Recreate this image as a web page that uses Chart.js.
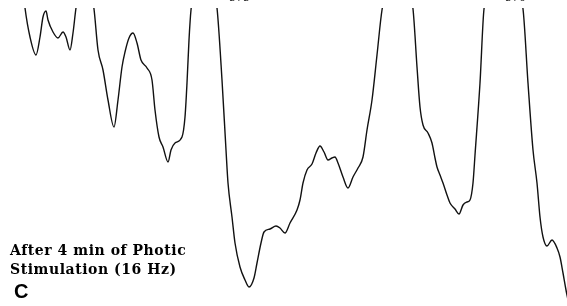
<!DOCTYPE html>
<html>
<head>
<meta charset="utf-8">
<script src="https://cdn.jsdelivr.net/npm/chart.js@4"></script>
<style>
    body { margin: 0; background: #fff; overflow: hidden; }
    #wrap { position: relative; width: 567px; height: 306px; overflow: hidden; }
    .lbl { position: absolute; color: #000; white-space: nowrap; }
    .cap { font-family: "DejaVu Serif", serif; font-weight: bold; font-size: 14px; letter-spacing: 0.55px; left: 10px; }
    .peak { font-family: "DejaVu Serif", serif; font-size: 11px; top: -9px; }
</style>
</head>
<body>
<div id="wrap">
    <canvas id="chart" width="567" height="306"></canvas>
    <div class="lbl peak" style="left:229px">575</div>
    <div class="lbl peak" style="left:505px">570</div>
    <div class="lbl cap" style="top:242px">After 4 min of Photic</div>
    <div class="lbl cap" style="top:261px">Stimulation (16 Hz)</div>
    <div class="lbl" style="left:14px;top:280px;font-family:'Liberation Sans',sans-serif;font-weight:bold;font-size:20px">C</div>
</div>
<script>
// trace (x position, signal height); values above 298 run off the top
const xValues = [22, 25, 30, 36, 40, 43, 46, 48, 53, 58, 63, 66, 70, 73, 76,
    85, 94, 98, 103, 108, 114, 118, 122, 125, 129, 133, 137, 141, 147, 152, 155, 159, 163, 168, 171, 175, 182, 185, 187, 189, 191,
    204, 217, 222, 226, 228, 232, 235, 240, 245, 249, 254, 257, 261, 264, 270, 276, 280, 285, 290, 297, 300, 303, 307, 312, 316, 320,
    324, 328, 332, 335, 338, 343, 348, 353, 358, 363, 367, 372, 377, 382,
    397, 413, 417, 420, 423, 428, 432, 435, 437, 440, 443, 447, 450, 455, 459, 463, 467, 470, 473, 475, 480, 484,
    503, 523, 528, 533, 537, 540, 543, 547, 552, 557, 560, 563, 566, 568];
const yValues = [326, 298, 269, 251, 269, 289, 295, 286, 274, 268, 274, 269, 256, 273, 298,
    346, 297, 256, 236, 206, 179, 206, 239, 254, 268, 273, 263, 246, 238, 226, 196, 169, 159, 144, 156, 163, 169, 189, 223, 266, 296,
    356, 298, 226, 156, 123, 89, 63, 39, 26, 19, 28, 43, 63, 74, 77, 80, 78, 73, 83, 96, 106, 123, 136, 142, 153, 160,
    154, 146, 148, 149, 143, 129, 118, 129, 138, 149, 176, 206, 251, 296,
    351, 297, 239, 199, 181, 173, 163, 148, 139, 131, 123, 111, 103, 97, 92, 101, 104, 106, 123, 151, 223, 297,
    351, 297, 223, 156, 123, 89, 69, 60, 66, 58, 49, 33, 16, 6];

const points = xValues.map((x, i) => ({ x: x, y: yValues[i] }));

new Chart(document.getElementById("chart"), {
    type: 'line',
    data: {
        datasets: [{
            data: points,
            borderColor: '#111',
            borderWidth: 1.4,
            pointRadius: 0,
            cubicInterpolationMode: 'monotone',
            fill: false
        }]
    },
    options: {
        responsive: false,
        animation: false,
        layout: { padding: { top: 8, left: 0, right: 0, bottom: 0 } },
        scales: {
            x: { type: 'linear', min: 0, max: 567, display: false },
            y: { type: 'linear', min: 0, max: 298, display: false }
        },
        plugins: {
            legend: { display: false },
            tooltip: { enabled: false }
        }
    }
});
</script>
</body>
</html>
